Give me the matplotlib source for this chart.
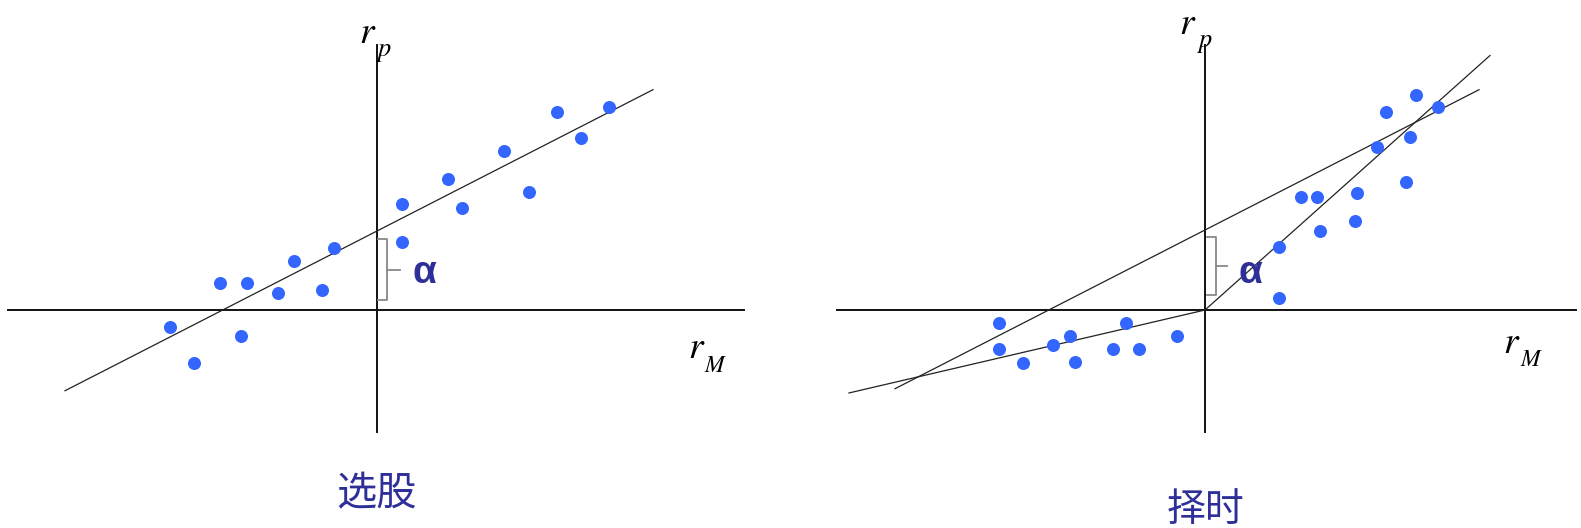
import matplotlib
matplotlib.use('Agg')
import matplotlib.pyplot as plt
import numpy as np

# 选股 panel: r_M, r_p
left_rm = [-2.07, -1.83, -1.57, -1.30, -1.36, -0.99, -0.83, -0.55, -0.43,
           0.25, 0.25, 0.71, 0.85, 1.27, 1.52, 1.80, 2.04, 2.32]
left_rp = [-0.17, -0.53, 0.27, 0.27, -0.26, 0.17, 0.49, 0.20, 0.62,
           1.06, 0.68, 1.31, 1.02, 1.59, 1.18, 1.98, 1.72, 2.03]
left_alpha = 0.79
left_beta = 0.512
left_line_x = [-3.12, 2.76]

# 择时 panel
right_rm = [-2.06, -2.06, -1.82, -1.52, -1.35, -1.30, -0.92, -0.79, -0.66, -0.28,
            0.74, 0.74, 1.15, 0.96, 1.12, 1.50, 1.52, 1.72, 1.81, 2.01, 2.05, 2.11, 2.33]
right_rp = [-0.13, -0.39, -0.53, -0.35, -0.26, -0.52, -0.39, -0.13, -0.39, -0.26,
            0.63, 0.12, 0.79, 1.13, 1.13, 0.89, 1.17, 1.63, 1.98, 1.28, 1.73, 2.15, 2.03]
right_alpha = 0.80
right_beta = 0.512
right_line_x = [-3.10, 2.74]
down_beta = 0.233      # 市场下跌时
down_line_x = [-3.56, 0]
up_beta = 0.893        # 市场上涨时
up_line_x = [0, 2.85]

titles = ['选股', '择时']

dot_color = '#3366ff'
txt_color = '#2f2f9a'
cjk = ['Noto Sans CJK SC', 'DejaVu Sans']
serif = 'STIXGeneral'

fig = plt.figure(figsize=(15.81, 5.28), dpi=100)
ax1 = fig.add_axes([0, 0, 790 / 1581, 1])
ax2 = fig.add_axes([790 / 1581, 0, 791 / 1581, 1])
ax1.set_xlim(-3.77, 4.13)
ax2.set_xlim(-4.15, 3.76)
for ax in (ax1, ax2):
    ax.set_ylim(-2.18, 3.10)
    ax.axis('off')


def sub_label(ax, pos, sub, sub_pos, sub_size):
    # r 加下标，下标放得比较低
    ax.text(pos[0], pos[1], 'r', fontsize=27, family=serif, style='italic',
            ha='left', va='baseline')
    ax.text(sub_pos[0], sub_pos[1], sub, fontsize=sub_size, family=serif,
            style='italic', ha='left', va='baseline')


def draw_axes(ax, xl, xr):
    ax.plot([xl, xr], [0, 0], color='#111111', lw=1.4)
    ax.plot([0, 0], [-1.22, 2.65], color='#111111', lw=1.4)


def draw_bracket(ax, x0, x1, top, bot, tick_x):
    mid = (top + bot) / 2
    ax.plot([x0, x1, x1, x0], [top, top, bot, bot], color='#888888', lw=1.3)
    ax.plot([x1, tick_x], [mid, mid], color='#888888', lw=1.3)


def reg_line(ax, alpha, beta, xs):
    xs = np.array(xs)
    ax.plot(xs, alpha + beta * xs, color='#222222', lw=0.9)


# left
draw_axes(ax1, -3.69, 3.67)
sub_label(ax1, (-0.18, 2.67), 'p', (0.01, 2.54), 19)
sub_label(ax1, (3.11, -0.48), 'M', (3.27, -0.62), 17)
reg_line(ax1, left_alpha, left_beta, left_line_x)
ax1.scatter(left_rm, left_rp, s=88, color=dot_color, linewidths=0, zorder=3)
draw_bracket(ax1, 0.01, 0.097, 0.71, 0.10, 0.23)
ax1.text(0.47, 0.37, 'α', fontsize=28, color=txt_color, family='Liberation Sans',
         weight='bold', ha='center', va='center')
ax1.text(-0.01, -1.84, titles[0], fontsize=29, color=txt_color, family=cjk,
         ha='center', va='center')

# right
draw_axes(ax2, -3.68, 3.71)
sub_label(ax2, (-0.26, 2.76), 'p', (-0.06, 2.63), 19)
sub_label(ax2, (2.98, -0.43), 'M', (3.15, -0.56), 17)
reg_line(ax2, right_alpha, right_beta, right_line_x)
reg_line(ax2, 0, down_beta, down_line_x)
reg_line(ax2, 0, up_beta, up_line_x)
ax2.scatter(right_rm, right_rp, s=88, color=dot_color, linewidths=0, zorder=3)
draw_bracket(ax2, 0.02, 0.107, 0.73, 0.15, 0.22)
ax2.text(0.45, 0.37, 'α', fontsize=28, color=txt_color, family='Liberation Sans',
         weight='bold', ha='center', va='center')
ax2.text(0.0, -2.0, titles[1], fontsize=28, color=txt_color, family=cjk,
         ha='center', va='center')

fig.savefig('out.png', dpi=100)
